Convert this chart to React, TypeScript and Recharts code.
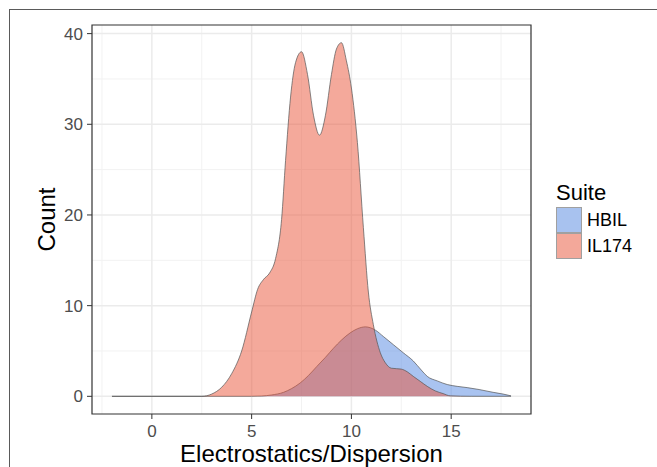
import {
  AreaChart,
  Area,
  XAxis,
  YAxis,
  CartesianGrid,
  ReferenceArea,
  Legend,
} from "recharts";

// density curves
const il174X = [-2, 2.5, 3.0, 3.5, 4.0, 4.5, 5.0, 5.3, 5.6, 5.9, 6.2, 6.5, 6.7, 6.95, 7.2, 7.5, 7.8, 8.1, 8.4, 8.7, 9.0, 9.25, 9.5, 9.75, 10.0, 10.3, 10.6, 10.85, 11.1, 11.45, 11.7, 12.0, 12.5, 12.8, 13.1, 13.45, 13.8, 14.2, 14.6, 14.95, 16, 18];
const il174Y = [0, 0, 0.25, 1.0, 2.5, 5.0, 9.3, 11.8, 12.9, 13.6, 15.2, 19.5, 26, 33, 36.8, 38.0, 35.5, 31, 28.8, 31, 35.5, 38.3, 39.0, 37, 34, 28, 18.6, 11.5, 7.9, 4.8, 3.7, 3.1, 3.0, 2.7, 2.2, 1.65, 1.1, 0.6, 0.3, 0.05, 0, 0];

const hbilX = [-2, 5.0, 5.5, 6.0, 6.6, 7.0, 7.43, 7.85, 8.27, 8.7, 9.1, 9.5, 9.94, 10.3, 10.7, 11.2, 11.6, 12.1, 12.6, 13.1, 13.5, 13.8, 14.3, 14.8, 15.3, 15.8, 16.4, 17.1, 17.6, 18];
const hbilY = [0, 0, 0.03, 0.15, 0.44, 0.85, 1.47, 2.3, 3.3, 4.3, 5.3, 6.2, 7.0, 7.45, 7.66, 7.3, 6.6, 5.7, 4.8, 3.9, 2.9, 2.2, 1.7, 1.3, 1.1, 0.96, 0.75, 0.44, 0.25, 0.05];

const xTicks = [0, 5, 10, 15];
const yTicks = [0, 10, 20, 30, 40];
const xMinor = [-2.5, 2.5, 7.5, 12.5, 17.5];
const yMinor = [5, 15, 25, 35];

const suites = [
  { name: "HBIL", color: "#5387E1" },
  { name: "IL174", color: "#E95337" },
];

const il174Data = il174X.map((x, i) => ({ x, y: il174Y[i] }));
const hbilData = hbilX.map((x, i) => ({ x, y: hbilY[i] }));

const FONT = "'Liberation Sans', Arial, sans-serif";

function SuiteLegend() {
  return (
    <div style={{ fontFamily: FONT, color: "#000" }}>
      <div style={{ fontSize: 22, lineHeight: "24px", marginBottom: 2 }}>Suite</div>
      {suites.map((s) => (
        <div key={s.name} style={{ display: "flex", alignItems: "center", height: 26 }}>
          <div
            style={{
              width: 26,
              height: 26,
              boxSizing: "border-box",
              background: s.color,
              opacity: 0.5,
              border: "1px solid #444",
            }}
          />
          <span style={{ fontSize: 18, marginLeft: 5 }}>{s.name}</span>
        </div>
      ))}
    </div>
  );
}

export default function App() {
  return (
    <div
      style={{
        position: "fixed",
        left: 0,
        top: 0,
        width: 657,
        height: 467,
        background: "#fff",
        overflow: "hidden",
        fontFamily: FONT,
      }}
    >
      <div
        style={{
          position: "absolute",
          left: 9,
          top: 9,
          width: 700,
          height: 520,
          border: "1.5px solid #5a5a5a",
        }}
      />
      <div style={{ position: "absolute", left: 0, top: 0 }}>
        <AreaChart
          width={657}
          height={467}
          margin={{ top: 25, right: 126, bottom: 0, left: 0 }}
        >
          <CartesianGrid
            verticalValues={xMinor}
            horizontalValues={yMinor}
            stroke="#f2f2f2"
            strokeWidth={1}
          />
          <CartesianGrid
            verticalValues={xTicks}
            horizontalValues={yTicks}
            stroke="#ebebeb"
            strokeWidth={1.5}
          />
          <XAxis
            type="number"
            dataKey="x"
            domain={[-3, 19]}
            ticks={xTicks}
            height={53}
            axisLine={false}
            tickSize={5}
            tickMargin={6}
            tickLine={{ stroke: "#333" }}
            tick={{ fill: "#4d4d4d", fontSize: 17 }}
            label={{
              value: "Electrostatics/Dispersion",
              position: "insideBottom",
              offset: 5,
              fill: "#000",
              fontSize: 24,
            }}
          />
          <YAxis
            type="number"
            domain={[-1.95, 40.95]}
            ticks={yTicks}
            width={92}
            axisLine={false}
            tickSize={5}
            tickMargin={4}
            tickLine={{ stroke: "#333" }}
            tick={{ fill: "#4d4d4d", fontSize: 17 }}
            label={{
              value: "Count",
              angle: -90,
              position: "center",
              fill: "#000",
              fontSize: 24,
            }}
          />
          <Area
            data={hbilData}
            dataKey="y"
            name="HBIL"
            type="monotone"
            baseValue={0}
            fill="#5387E1"
            fillOpacity={0.5}
            stroke="#555"
            strokeWidth={0.7}
            isAnimationActive={false}
          />
          <Area
            data={il174Data}
            dataKey="y"
            name="IL174"
            type="monotone"
            baseValue={0}
            fill="#E95337"
            fillOpacity={0.5}
            stroke="#555"
            strokeWidth={0.7}
            isAnimationActive={false}
          />
          <ReferenceArea
            x1={-3}
            x2={19}
            y1={-1.95}
            y2={40.95}
            fill="none"
            stroke="#333"
            strokeWidth={1.2}
          />
          <Legend
            layout="vertical"
            align="center"
            verticalAlign="middle"
            content={<SuiteLegend />}
            wrapperStyle={{ position: "absolute", left: 556, top: 181, width: 100 }}
          />
        </AreaChart>
      </div>
    </div>
  );
}
